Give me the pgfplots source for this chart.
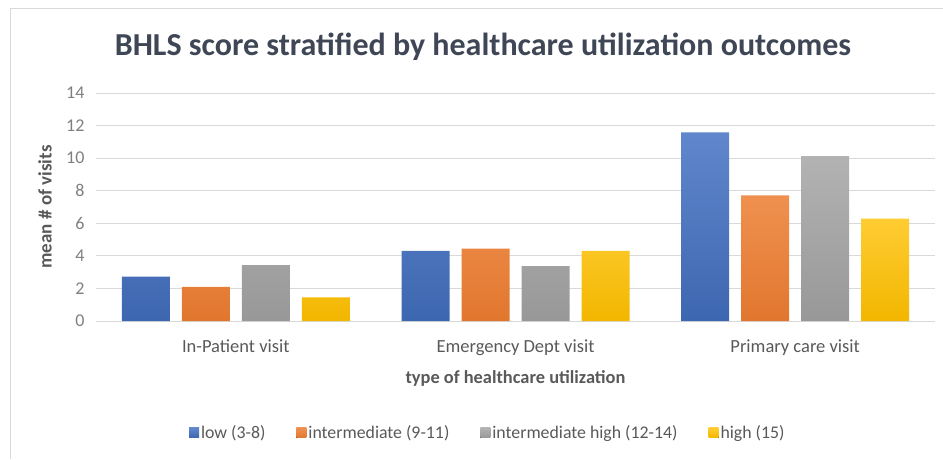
\documentclass[border=0pt]{standalone}
\usepackage{pgfplots}
\pgfplotsset{compat=1.18}
\usepackage{fontspec}
\setmainfont{Carlito}
\definecolor{cblue}{HTML}{4472C4}
\definecolor{corange}{HTML}{ED7D31}
\definecolor{cgray}{HTML}{A5A5A5}
\definecolor{cyellow}{HTML}{FFC000}
\definecolor{titlec}{HTML}{3F4756}
\definecolor{tickc}{HTML}{7F7F7F}
\definecolor{labc}{HTML}{595959}
\definecolor{gridc}{HTML}{D9D9D9}
\begin{document}
\begin{tikzpicture}
\path[use as bounding box] (0pt,0pt) rectangle (943pt,459pt);
\draw[gridc,line width=1pt] (10pt,0pt) -- (10pt,450pt) -- (943pt,450pt);
\node[font=\bfseries\fontsize{32}{38}\selectfont,text=titlec] at (483pt,412pt) {BHLS score stratified by healthcare utilization outcomes};
\begin{axis}[
  at={(96pt,138pt)}, anchor=south west,
  scale only axis, width=839pt, height=228pt,
  ymin=0, ymax=14, ytick={0,2,...,14},
  xmin=-0.5, xmax=2.5, xtick={0,1,2},
  xticklabels={In-Patient visit,Emergency Dept visit,Primary care visit},
  axis line style={draw=none},
  tick style={draw=none},
  ymajorgrids, grid style={gridc,line width=0.8pt},
  ybar=12pt, bar width=48pt,
  /pgf/number format/assume math mode=true,
  yticklabel style={font=\fontsize{18}{20}\selectfont,text=tickc,xshift=-8pt},
  xticklabel style={font=\fontsize{18.5}{22}\selectfont,text=labc,yshift=-11pt},
  xlabel={type of healthcare utilization},
  xlabel style={font=\bfseries\fontsize{18.4}{22}\selectfont,text=labc,yshift=-8pt},
  ylabel={mean \# of visits},
  ylabel style={font=\bfseries\fontsize{19}{22}\selectfont,text=labc,at={(axis description cs:-0.0608,0.5)},anchor=center},
  legend columns=4,
  legend style={draw=none,fill=none,font=\fontsize{17.8}{20}\selectfont,text=labc,
    at={(0.467,-0.491)},anchor=center,/tikz/every even column/.append style={column sep=29pt}},
  legend image code/.code={\fill[#1] (0pt,-5pt) rectangle (10pt,5pt);},
]
\addplot[draw=none,top color=cblue!85!white,bottom color=cblue!90!black] coordinates {(0,2.72) (1,4.31) (2,11.58)};
\addplot[draw=none,top color=corange!85!white,bottom color=corange!95!black] coordinates {(0,2.1) (1,4.44) (2,7.71)};
\addplot[draw=none,top color=cgray!85!white,bottom color=cgray!92!black] coordinates {(0,3.43) (1,3.37) (2,10.12)};
\addplot[draw=none,top color=cyellow!80!white,bottom color=cyellow!95!black] coordinates {(0,1.45) (1,4.31) (2,6.28)};
\legend{low (3-8),intermediate (9-11),intermediate high (12-14),high (15)}
\end{axis}
\end{tikzpicture}
\end{document}
